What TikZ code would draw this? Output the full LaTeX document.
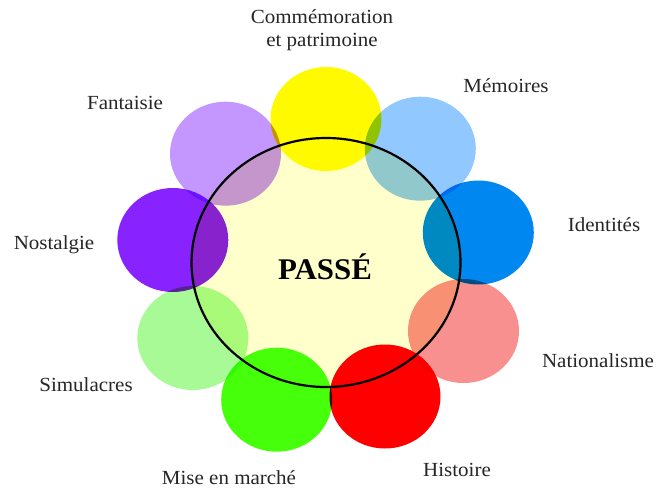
\documentclass[tikz,border=0pt]{standalone}
\usepackage{fontspec}
\setmainfont{Liberation Serif}
\usetikzlibrary{shapes.geometric}
\definecolor{cYellow}{RGB}{255,250,0}
\definecolor{cSky}{RGB}{145,200,255}
\definecolor{cBlue}{RGB}{0,136,240}
\definecolor{cPink}{RGB}{248,144,144}
\definecolor{cRed}{RGB}{255,0,0}
\definecolor{cGreen}{RGB}{70,255,10}
\definecolor{cLight}{RGB}{168,250,150}
\definecolor{cPurple}{RGB}{136,34,255}
\definecolor{cLav}{RGB}{196,150,255}
\definecolor{cCore}{RGB}{255,255,204}
\tikzset{
  blob/.style={ellipse, inner sep=0pt, minimum width=111pt, minimum height=104pt, blend mode=multiply},
  lbl/.style={font=\fontsize{20}{23}\selectfont, text=black!85, align=center, inner sep=0pt, xscale=1.05},
}
\begin{document}
\begin{tikzpicture}[x=1pt,y=-1pt]
\useasboundingbox (0,0) rectangle (658,489);
\fill[white] (0,0) rectangle (658,489);
\node[ellipse, inner sep=0pt, minimum width=269pt, minimum height=249pt, fill=cCore] (core) at (326,262.5) {};
\node[blob, fill=cYellow] (b1) at (326,119) {};
\node[blob, fill=cSky] (b2) at (420.3,148.7) {};
\node[blob, fill=cBlue] (b3) at (478.3,232.5) {};
\node[blob, fill=cPink] (b4) at (463.5,331) {};
\node[blob, fill=cRed] (b5) at (385,396.5) {};
\node[blob, fill=cGreen] (b6) at (276.7,399.7) {};
\node[blob, fill=cLight] (b7) at (192.8,338) {};
\node[blob, fill=cPurple] (b8) at (172.8,240) {};
\node[blob, fill=cLav] (b9) at (225.5,153.7) {};
\node[ellipse, inner sep=0pt, minimum width=269pt, minimum height=249pt, draw=black, line width=2.2pt] (ring) at (326,262.5) {};
\node[font=\bfseries\fontsize{30}{34}\selectfont, inner sep=0pt, xscale=1.03] (passe) at (325,267) {PASSÉ};
\node[lbl] (t1) at (322,30) {Commémoration\\et patrimoine};
\node[lbl] (t2) at (506,86) {Mémoires};
\node[lbl] (t3) at (604,225) {Identités};
\node[lbl] (t4) at (598,361) {Nationalisme};
\node[lbl] (t5) at (457,470) {Histoire};
\node[lbl] (t6) at (229,478) {Mise en marché};
\node[lbl] (t7) at (86,385) {Simulacres};
\node[lbl] (t8) at (54,245) {Nostalgie};
\node[lbl] (t9) at (125,103) {Fantaisie};
\end{tikzpicture}
\end{document}
